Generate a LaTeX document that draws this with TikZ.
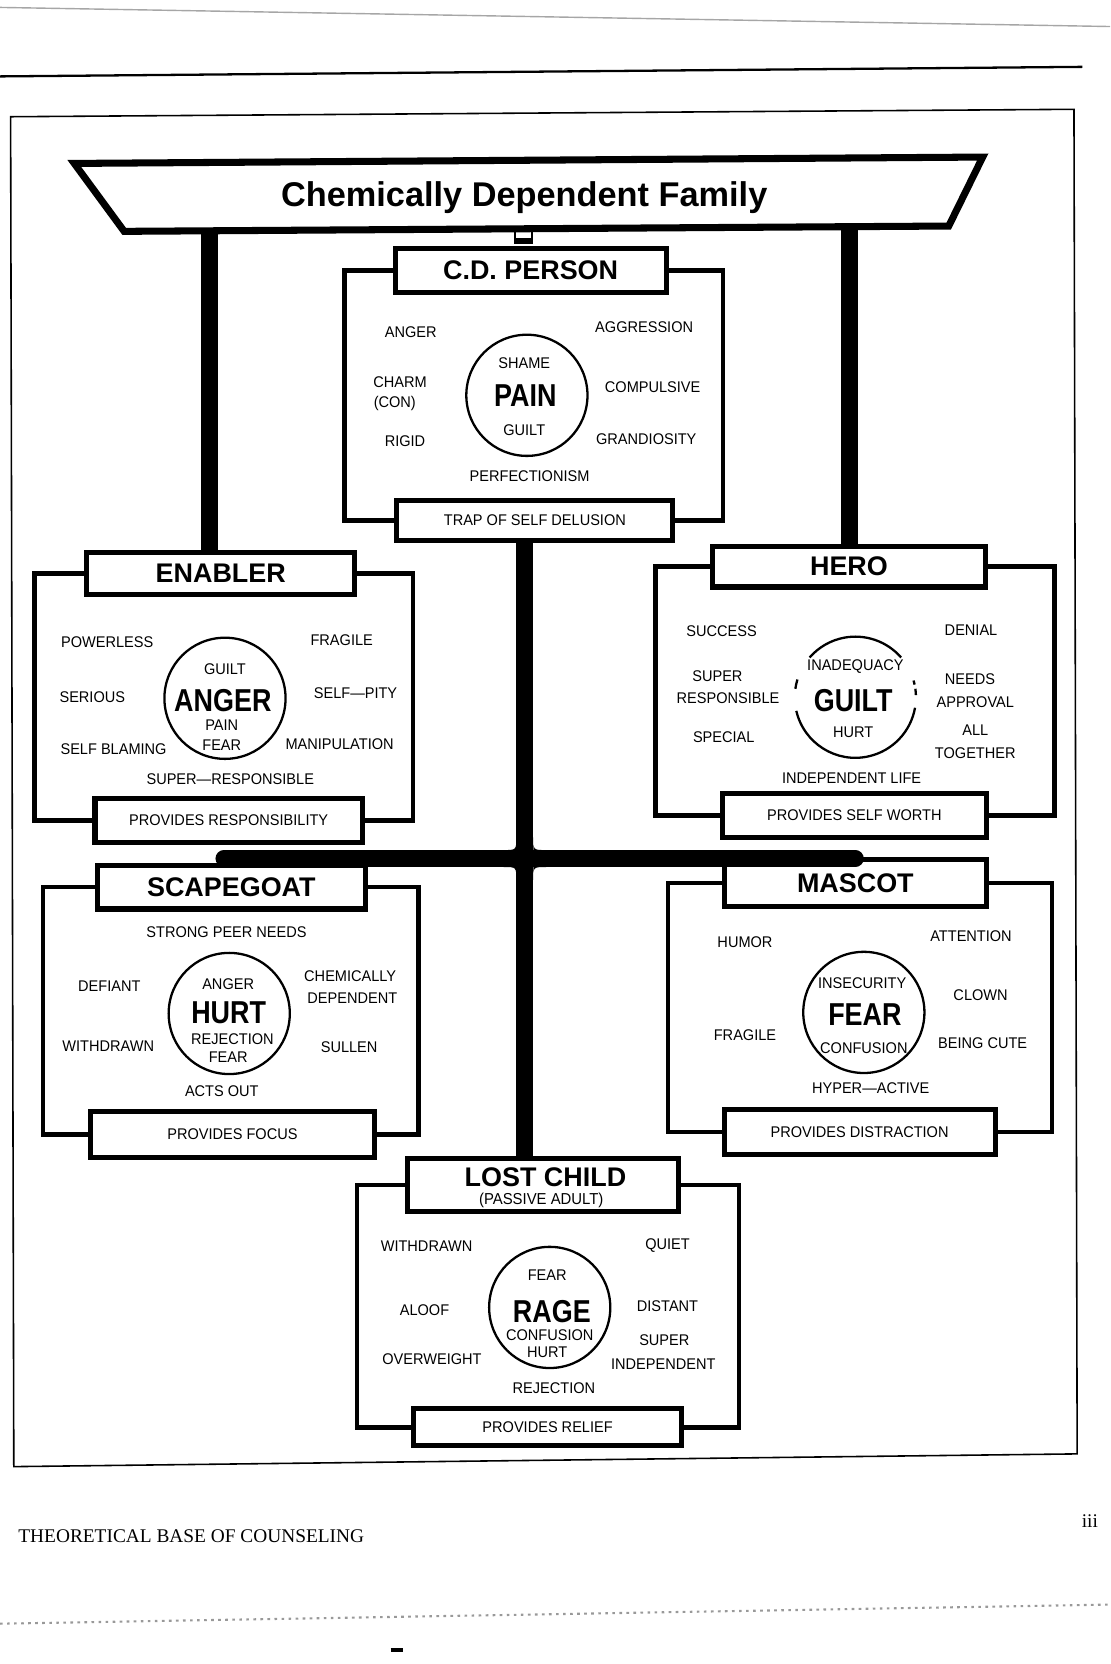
\documentclass[tikz,border=0pt]{standalone}
\usepackage{fontspec}
\setmainfont{Liberation Sans}
\newfontfamily\cnd[FakeStretch=0.85]{Liberation Sans}
\newfontfamily\nrw[FakeStretch=0.94]{Liberation Sans}
\newfontfamily\srf{Liberation Serif}
\usepackage{tikz}

\begin{document}
\begin{tikzpicture}[x=0.0212cm, y=-0.0212cm,
    word/.style={font=\nrw\fontsize{8.8}{9.5}\selectfont, inner sep=0pt},
    core/.style={font=\cnd\bfseries\fontsize{18}{18}\selectfont, inner sep=0pt},
    role/.style={draw, line width=2.9pt, fill=white, inner sep=0pt, font=\bfseries\fontsize{15.3}{16}\selectfont},
    gain/.style={draw, line width=2.9pt, fill=white, inner sep=0pt, font=\nrw\fontsize{8.8}{9.5}\selectfont},
    ring/.style={circle, draw, line width=1.3pt, minimum size=2.42cm, inner sep=0pt, outer sep=0pt},
    brace/.style={line width=2.5pt},
    bar/.style={line width=9.6pt}]

\useasboundingbox (0,0) rectangle (1046,1568);

% page edges and frame
\draw[black!35, line width=0.8pt] (0,7) -- (1046,25);
\draw[line width=1.3pt] (0,72) -- (1020,63);
\draw[line width=0.9pt] (10,110) -- (1012,103) -- (1015,1370) -- (13,1382) -- cycle;
\draw[black!40, line width=1.2pt, dash pattern=on 1.5pt off 2.5pt] (0,1530) -- (1046,1512);
\draw[line width=2pt] (368,1555) -- (380,1555);

% banner
\draw[line width=4pt, line join=miter] (70,154) -- (926,148) -- (894,213) -- (117,218) -- cycle;
\node[font=\bfseries\fontsize{19.5}{20}\selectfont, inner sep=0pt] (cdf) at (494,186) {Chemically Dependent Family};
\draw[line width=1pt] (485,218) rectangle (501,229);
\fill (485,224) rectangle (501,229);

% role boxes
\node[role, minimum width=5.41cm, minimum height=0.87cm] (cdT) at (500,255) {C.D. PERSON};
\node[gain, minimum width=5.51cm, minimum height=0.81cm] (cdB) at (504,490.5) {TRAP OF SELF DELUSION};
\node[role, minimum width=5.36cm, minimum height=0.85cm] (enT) at (208,540.5) {ENABLER};
\node[gain, minimum width=5.34cm, minimum height=0.87cm] (enB) at (215.5,773) {PROVIDES RESPONSIBILITY};
\node[role, minimum width=5.45cm, minimum height=0.81cm] (heT) at (800,534) {HERO};
\node[gain, minimum width=5.28cm, minimum height=0.89cm] (heB) at (805,768.5) {PROVIDES SELF WORTH};
\node[role, minimum width=5.36cm, minimum height=0.87cm] (scT) at (218,836) {SCAPEGOAT};
\node[gain, minimum width=5.66cm, minimum height=0.91cm] (scB) at (219,1069) {PROVIDES FOCUS};
\node[role, minimum width=5.24cm, minimum height=0.95cm] (maT) at (806,832) {MASCOT};
\node[gain, minimum width=5.41cm, minimum height=0.89cm] (maB) at (810,1066.5) {PROVIDES DISTRACTION};
\node[role, minimum width=5.41cm, minimum height=1.06cm] (lcT) at (512,1116.5) {};
\node[gain, minimum width=5.36cm, minimum height=0.74cm] (lcB) at (516,1345) {PROVIDES RELIEF};
\node[font=\bfseries\fontsize{15.3}{16}\selectfont, inner sep=0pt] (lcName) at (514,1109) {LOST CHILD};
\node[font=\nrw\fontsize{9}{10}\selectfont, inner sep=0pt] (lcSub) at (510,1131) {(PASSIVE ADULT)};

% trunk and branches
\coordinate (barL) at (197.5,216);
\coordinate (barR) at (800.5,213);
\coordinate (hub) at (494.5,809);
\coordinate (armL) at (211,809);
\coordinate (armR) at (806,809);
\draw[bar] (barL) -- (barL |- enT.north); % banner-enabler
\draw[bar] (barR) -- (barR |- heT.north); % banner-hero
\draw[bar] (hub |- cdB.south) -- (hub |- lcT.north); % person-lost child
\draw[bar, line cap=round] (armL) -- (armR); % scapegoat-mascot
\fill (486.5,789) .. controls (486.5,801) .. (474.5,801) -- (486.5,801) -- cycle;
\fill (502.5,789) .. controls (502.5,801) .. (514.5,801) -- (502.5,801) -- cycle;
\fill (486.5,829) .. controls (486.5,817) .. (474.5,817) -- (486.5,817) -- cycle;
\fill (502.5,829) .. controls (502.5,817) .. (514.5,817) -- (502.5,817) -- cycle;

% side brackets
\draw[brace] (cdT.west) -- ++(-45.5,0) |- (cdB.west); % person left
\draw[brace] (cdT.east) -- ++(51,0) |- (cdB.east); % person right
\draw[brace] (enT.west) -- ++(-46.5,0) |- (enB.west); % enabler left
\draw[brace] (enT.east) -- ++(52.5,0) |- (enB.east); % enabler right
\draw[brace] (heT.west) -- ++(-51.5,0) |- (heB.west); % hero left
\draw[brace] (heT.east) -- ++(62.5,0) |- (heB.east); % hero right
\draw[brace] (scT.west) -- ++(-48.5,0) |- (scB.west); % scapegoat left
\draw[brace] (scT.east) -- ++(47.5,0) |- (scB.east); % scapegoat right
\draw[brace] (maT.west) -- ++(-50.5,0) |- (maB.west); % mascot left
\draw[brace] (maT.east) -- ++(59.5,0) |- (maB.east); % mascot right
\draw[brace] (lcT.west) -- ++(-45.5,0) |- (lcB.west); % lost child left
\draw[brace] (lcT.east) -- ++(54.5,0) |- (lcB.east); % lost child right

% C.D. person
\node[ring] (cdRing) at (496.5,372.5) {};
\node[word] (cdAnger) at (387,313) {ANGER};
\node[word] (cdAggr) at (607,308) {AGGRESSION};
\node[word] (cdShame) at (494,342.6) {SHAME};
\node[word] (cdCharm) at (377,360) {CHARM};
\node[word] (cdCon) at (372,380) {(CON)};
\node[word] (cdComp) at (615,365) {COMPULSIVE};
\node[core] (cdPain) at (495,373) {PAIN};
\node[word] (cdRigid) at (381.6,415.7) {RIGID};
\node[word] (cdGuilt) at (494,405) {GUILT};
\node[word] (cdGrand) at (609,414) {GRANDIOSITY};
\node[word] (cdPerf) at (499,449) {PERFECTIONISM};

% enabler
\node[ring] (enRing) at (212,658) {};
\node[word] (enPower) at (101,605) {POWERLESS};
\node[word] (enFrag) at (322,603) {FRAGILE};
\node[word] (enGuilt) at (212,631) {GUILT};
\node[word] (enSer) at (87,657) {SERIOUS};
\node[core] (enAnger) at (210,660) {ANGER};
\node[word] (enPity) at (335,653.5) {SELF—PITY};
\node[word] (enPain) at (209,683) {PAIN};
\node[word] (enBlame) at (107,706) {SELF BLAMING};
\node[word] (enFear) at (209,702) {FEAR};
\node[word] (enManip) at (320,701) {MANIPULATION};
\node[word] (enSuper) at (217,734) {SUPER—RESPONSIBLE};

% hero
\node[ring, draw=none] (heRing) at (806,657) {};
\draw[line width=1.3pt] (heRing.41) arc[start angle=41, end angle=139, radius=1.21cm];
\draw[line width=1.3pt] (heRing.163) arc[start angle=163, end angle=172, radius=1.21cm];
\draw[line width=1.3pt] (heRing.193) arc[start angle=193, end angle=350, radius=1.21cm];
\draw[line width=1.3pt] (heRing.2) arc[start angle=2, end angle=8, radius=1.21cm];
\draw[line width=1.3pt] (heRing.12) arc[start angle=12, end angle=16, radius=1.21cm];
\node[word] (heSucc) at (680,595) {SUCCESS};
\node[word] (heDen) at (915,594) {DENIAL};
\node[word] (heInad) at (806,628) {INADEQUACY};
\node[word] (heSup) at (676,637) {SUPER};
\node[word] (heNeeds) at (914,640) {NEEDS};
\node[core] (heGuilt) at (804,660) {GUILT};
\node[word] (heResp) at (686,658) {RESPONSIBLE};
\node[word] (heAppr) at (919,662) {APPROVAL};
\node[word] (heHurt) at (804,690) {HURT};
\node[word] (heSpec) at (682,695) {SPECIAL};
\node[word] (heAll) at (919,688.5) {ALL};
\node[word] (heTog) at (919,710) {TOGETHER};
\node[word] (heLife) at (802.5,733) {INDEPENDENT LIFE};

% scapegoat
\node[ring] (scRing) at (216,955) {};
\node[word] (scPeer) at (213.5,878) {STRONG PEER NEEDS};
\node[word] (scDef) at (103,929) {DEFIANT};
\node[word] (scAnger) at (215,927) {ANGER};
\node[word] (scChem) at (330,920) {CHEMICALLY};
\node[word] (scDep) at (332,941) {DEPENDENT};
\node[core] (scHurt) at (215.5,954) {HURT};
\node[word] (scWith) at (102,986) {WITHDRAWN};
\node[word] (scRej) at (219,979) {REJECTION};
\node[word] (scSull) at (329,987) {SULLEN};
\node[word] (scFear) at (215,996) {FEAR};
\node[word] (scActs) at (209,1028.6) {ACTS OUT};

% mascot
\node[ring] (maRing) at (814,954) {};
\node[word] (maHum) at (702,888) {HUMOR};
\node[word] (maAtt) at (915,882.5) {ATTENTION};
\node[word] (maInsec) at (812.5,926) {INSECURITY};
\node[word] (maClown) at (924,938) {CLOWN};
\node[core] (maFear) at (815,956.5) {FEAR};
\node[word] (maFrag) at (702,975.5) {FRAGILE};
\node[word] (maCute) at (926,983) {BEING CUTE};
\node[word] (maConf) at (814,988) {CONFUSION};
\node[word] (maHyper) at (820.5,1025) {HYPER—ACTIVE};

% lost child
\node[ring] (lcRing) at (518,1232) {};
\node[word] (lcWith) at (402,1174) {WITHDRAWN};
\node[word] (lcQuiet) at (629,1174) {QUIET};
\node[word] (lcFear) at (515.6,1202) {FEAR};
\node[word] (lcAloof) at (400,1235) {ALOOF};
\node[core] (lcRage) at (520,1235.5) {RAGE};
\node[word] (lcDist) at (629,1230.5) {DISTANT};
\node[word] (lcConf) at (518,1258) {CONFUSION};
\node[word] (lcSup) at (626,1263) {SUPER};
\node[word] (lcHurt) at (515.6,1274) {HURT};
\node[word] (lcOver) at (407,1281) {OVERWEIGHT};
\node[word] (lcInd) at (625,1285) {INDEPENDENT};
\node[word] (lcRej) at (522,1308.4) {REJECTION};

% footer
\node[font=\srf\fontsize{11}{12}\selectfont, anchor=west, inner sep=0pt] (foot) at (17,1448) {THEORETICAL BASE OF COUNSELING};
\node[font=\srf\fontsize{11}{12}\selectfont, inner sep=0pt] (folio) at (1027,1433) {iii};
\end{tikzpicture}
\end{document}
